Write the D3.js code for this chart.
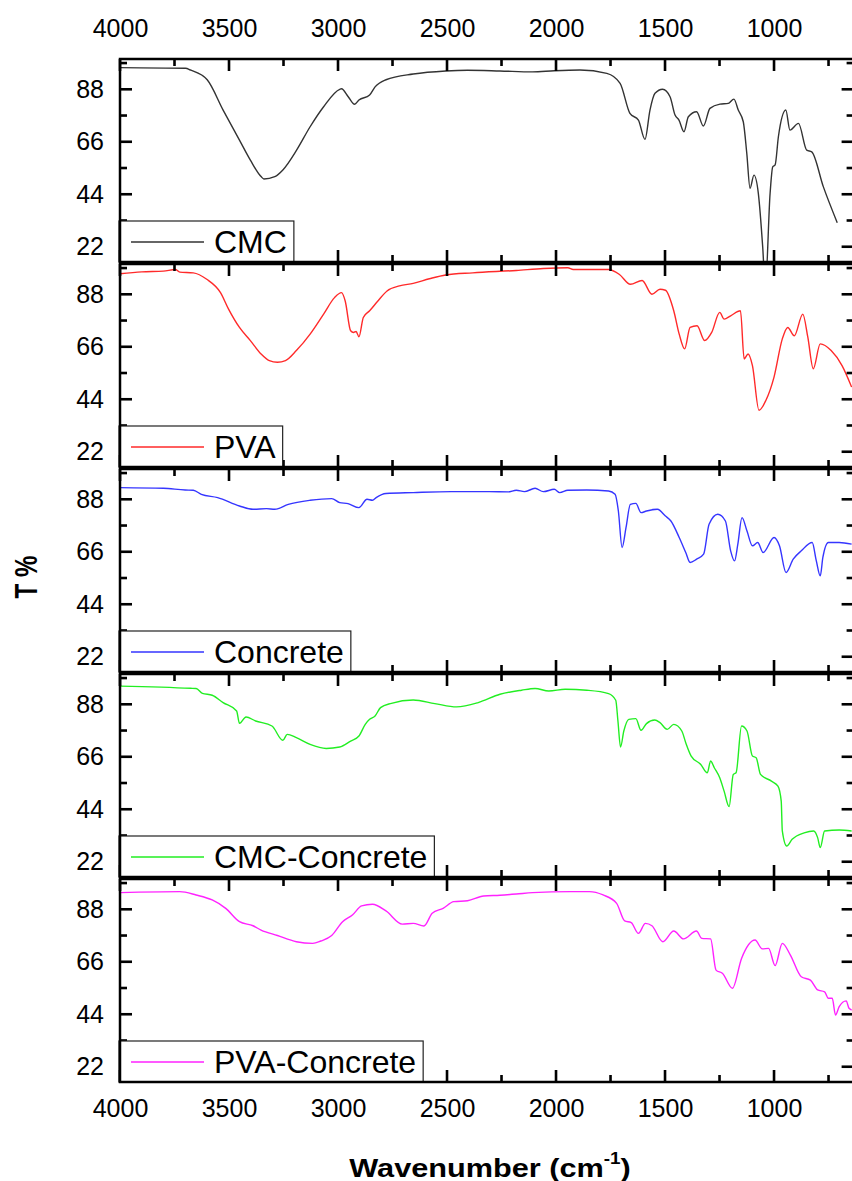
<!DOCTYPE html>
<html>
<head>
<meta charset="utf-8">
<script src="https://cdn.jsdelivr.net/npm/d3@7"></script>
<style>
  body { margin: 0; background: #fff; }
  svg { display: block; font-family: "Liberation Sans", Arial, sans-serif; }
</style>
</head>
<body>
<div id="chart"></div>
<script>
// series names + line colours, top panel first
const names = ['CMC', 'PVA', 'Concrete', 'CMC-Concrete', 'PVA-Concrete'];
const colors = ['#333333', '#ff2a2a', '#3535ff', '#22ee22', '#ff22ff'];

const xTicks = [4000, 3500, 3000, 2500, 2000, 1500, 1000];
const xMinor = [3750, 3250, 2750, 2250, 1750, 1250, 750];
const yTicks = [22, 44, 66, 88];
const yMinor = [33, 55, 77, 99];

// (wavenumber cm-1, transmittance %)
const cmcWn = [4000, 3700, 3675, 3600, 3527, 3452, 3402, 3353, 3340, 3290, 3253, 3190, 3128, 3066, 2992, 2984, 2954, 2924, 2904, 2855, 2830, 2780, 2655, 2506, 2406, 2257, 2108, 2008, 1890, 1767, 1706, 1661, 1622, 1592, 1569, 1546, 1511, 1477, 1454, 1436, 1413, 1393, 1355, 1324, 1294, 1248, 1210, 1184, 1164, 1141, 1125, 1110, 1092, 1072, 1052, 1040, 1018, 1006, 995, 980, 946, 927, 888, 850, 827, 774, 710];
const cmcT = [97.1, 96.8, 96, 92, 79.3, 66.7, 58.3, 51.4, 50.4, 51.4, 54.2, 62.5, 72.3, 80.7, 88, 88.2, 85, 81.7, 83.5, 85.6, 89, 92, 94.4, 95.7, 96, 95.7, 95.3, 95.8, 96.1, 94.7, 90.5, 77.9, 75.1, 67.0, 79.3, 86.3, 88, 84.9, 77.2, 75.1, 70.2, 76.5, 78.6, 72.6, 80.0, 81.8, 82.1, 83.9, 79.3, 74.4, 61.2, 46.5, 52, 44.4, 22, 5, 44.4, 55.5, 56.3, 68.1, 79.3, 70.9, 73.7, 62.5, 61.8, 47.2, 32.1];

const pvaWn = [4000, 3900, 3801, 3746, 3726, 3664, 3602, 3539, 3502, 3452, 3402, 3353, 3315, 3278, 3241, 3191, 3128, 3066, 3016, 2984, 2967, 2942, 2929, 2917, 2904, 2884, 2855, 2817, 2775, 2718, 2655, 2581, 2506, 2382, 2182, 2058, 1946, 1921, 1759, 1709, 1659, 1605, 1560, 1523, 1498, 1460, 1435, 1410, 1385, 1353, 1318, 1286, 1249, 1229, 1199, 1154, 1137, 1119, 1099, 1069, 1037, 1000, 962, 937, 907, 868, 845, 820, 788, 738, 688, 644];
const pvaT = [96.6, 97.4, 97.7, 98.4, 97.3, 97.0, 94.3, 88.7, 81.8, 74.1, 68.6, 63.0, 60.2, 59.5, 60.2, 64.4, 71.3, 79.7, 86.6, 88.7, 85.2, 72.7, 72, 72.4, 70.2, 78.3, 81.1, 85.2, 89.4, 91.5, 92.6, 94.5, 96.1, 97, 98, 98.8, 99.1, 98.4, 98.4, 96.3, 92.2, 93.8, 88, 90.1, 89.7, 81.1, 71.3, 65.1, 74.1, 74.8, 68.6, 72, 80.4, 77.6, 79.0, 81.1, 60.9, 63, 58.1, 39.4, 43.6, 53.3, 69.3, 74.1, 70.6, 79.7, 70, 56.8, 67.2, 64.4, 58.1, 49.1];

const conWn = [4000, 3801, 3701, 3664, 3627, 3552, 3452, 3390, 3328, 3290, 3228, 3128, 3029, 2992, 2954, 2904, 2867, 2842, 2825, 2780, 2655, 2481, 2307, 2220, 2182, 2145, 2096, 2058, 2008, 1983, 1946, 1859, 1759, 1729, 1714, 1697, 1679, 1659, 1634, 1610, 1585, 1535, 1498, 1473, 1435, 1405, 1385, 1355, 1323, 1298, 1258, 1223, 1199, 1181, 1166, 1147, 1124, 1099, 1075, 1050, 1000, 975, 945, 912, 875, 825, 806, 788, 776, 751, 701, 644];
const conT = [92.9, 92.6, 91.9, 91.8, 90.1, 88.7, 85.2, 83.8, 84.1, 83.8, 85.9, 87.6, 88.3, 86.6, 86.2, 84.5, 88, 87.6, 88.7, 90.4, 90.8, 91.2, 91.2, 91.1, 91.8, 91.2, 92.6, 91.2, 92.2, 90.8, 91.8, 91.9, 91.5, 90.1, 83.1, 67.8, 76.1, 85.9, 86.3, 82.4, 83.1, 83.8, 81, 78.9, 72, 65.7, 61.5, 62.9, 65, 77.5, 81.7, 78.9, 66.4, 62.2, 69.2, 80.3, 74.7, 68.5, 69.9, 65.7, 72, 68.5, 57.3, 62.9, 66.4, 69.9, 62.2, 55.9, 63.6, 69.9, 69.9, 69.2];

const cmcConWn = [4000, 3676, 3651, 3622, 3577, 3527, 3465, 3452, 3422, 3378, 3303, 3253, 3233, 3191, 3128, 3054, 2992, 2942, 2904, 2875, 2855, 2830, 2805, 2755, 2655, 2556, 2456, 2357, 2257, 2158, 2096, 2033, 1958, 1859, 1759, 1726, 1716, 1704, 1689, 1666, 1634, 1610, 1585, 1547, 1523, 1490, 1460, 1423, 1405, 1380, 1336, 1306, 1291, 1274, 1249, 1229, 1206, 1187, 1174, 1149, 1124, 1099, 1082, 1062, 1012, 982, 967, 962, 942, 917, 862, 818, 800, 788, 768, 701, 644];
const cmcConT = [95.6, 94.7, 94.6, 92.6, 91.8, 88.7, 85.2, 80, 82.7, 81, 78.9, 72.9, 75.4, 74, 71.2, 69.5, 70.1, 72.6, 74.7, 79.6, 81.7, 83.1, 86.6, 88.4, 89.8, 88.3, 86.9, 88.7, 92.2, 93.9, 94.6, 93.6, 94.3, 93.9, 92.5, 89.7, 81, 70.1, 76.8, 81.7, 82, 77.1, 79.9, 81.4, 80.3, 77.5, 79.6, 76.8, 71.9, 66.3, 62.8, 59.3, 64.2, 61.4, 57.2, 51.6, 45.1, 58.6, 59.3, 78.9, 76.8, 66.3, 65.6, 58.6, 55.8, 53.7, 47.4, 34.9, 28.6, 31.4, 34.1, 34.9, 32.1, 27.9, 34.9, 35.3, 34.9];

const pvaConWn = [4000, 3726, 3651, 3577, 3515, 3452, 3390, 3353, 3278, 3191, 3116, 3079, 3029, 2979, 2934, 2892, 2842, 2780, 2705, 2655, 2606, 2568, 2518, 2469, 2406, 2332, 2257, 2182, 2108, 1934, 1847, 1784, 1722, 1685, 1655, 1622, 1590, 1560, 1510, 1460, 1415, 1356, 1331, 1291, 1266, 1236, 1191, 1149, 1087, 1054, 1025, 995, 962, 925, 875, 833, 800, 768, 751, 733, 718, 701, 669, 656, 644];
const pvaConT = [95, 95.4, 94, 91.9, 88.4, 82.8, 81.1, 79.3, 77, 74.4, 73.7, 74.7, 77, 82.8, 85.6, 89.4, 90.1, 87.3, 81.8, 82.1, 81, 86.3, 88.4, 91.2, 91.6, 93.6, 93.9, 94.4, 95, 95.4, 95.4, 94, 90.5, 83.1, 82.4, 77.9, 82.1, 81.1, 74.4, 78.9, 75.6, 78.9, 75.8, 75.6, 62.5, 61.1, 54.9, 67.4, 75.1, 71.4, 71.6, 64.4, 73.7, 68.8, 59.7, 58.3, 54.2, 53.4, 50.7, 50.7, 43.7, 47.2, 49.6, 46.5, 45.8];

const seriesWn = [cmcWn, pvaWn, conWn, cmcConWn, pvaConWn];
const seriesT = [cmcT, pvaT, conT, cmcConT, pvaConT];

const W = 852, H = 1181;
const marginLeft = 120, marginTop = 59;
const plotW = 733.6, panelH = 203, step = 205;
const MAJOR = 12, MINOR = 7, TW = 2.6;

const svg = d3.select('#chart').append('svg')
  .attr('width', W)
  .attr('height', H);

const x = d3.scaleLinear().domain([4000, 635]).range([0, plotW]);
const y = d3.scaleLinear().domain([15.6, 100.7]).range([panelH, 0]);

const line = d3.line()
  .x(d => x(d[0]))
  .y(d => y(d[1]))
  .curve(d3.curveMonotoneX);

// tick labels only, via d3 axes
function addLabels(g, axis, transform) {
  const a = g.append('g')
    .attr('transform', transform)
    .call(axis);
  a.attr('font-size', 25).attr('font-family', null);
  a.select('.domain').remove();
  a.selectAll('.tick line').remove();
  a.selectAll('text').attr('fill', '#000');
}

// inward tick marks drawn as thin filled rects
function addTicks(g, xs, ys, len) {
  const t = g.append('g').attr('fill', '#000');
  t.selectAll(null).data(xs).join('rect')
    .attr('x', d => x(d) - TW / 2).attr('y', 0)
    .attr('width', TW).attr('height', len);
  t.selectAll(null).data(xs).join('rect')
    .attr('x', d => x(d) - TW / 2).attr('y', panelH - len)
    .attr('width', TW).attr('height', len);
  t.selectAll(null).data(ys).join('rect')
    .attr('x', 0).attr('y', d => y(d) - TW / 2)
    .attr('width', len).attr('height', TW);
  t.selectAll(null).data(ys).join('rect')
    .attr('x', plotW - len).attr('y', d => y(d) - TW / 2)
    .attr('width', len).attr('height', TW);
}

names.forEach((name, i) => {
  const g = svg.append('g')
    .attr('transform', 'translate(' + marginLeft + ',' + (marginTop + i * step) + ')');

  const clipId = 'clip' + i;
  g.append('clipPath')
    .attr('id', clipId)
    .append('rect')
    .attr('width', plotW)
    .attr('height', panelH);

  const pts = seriesWn[i].map((wn, j) => [wn, seriesT[i][j]]);

  g.append('path')
    .datum(pts)
    .attr('clip-path', 'url(#' + clipId + ')')
    .attr('fill', 'none')
    .attr('stroke', colors[i])
    .attr('stroke-width', 1.4)
    .attr('d', line);

  addTicks(g, xTicks, yTicks, MAJOR);
  addTicks(g, xMinor, yMinor, MINOR);

  addLabels(g, d3.axisLeft(y).tickValues(yTicks).tickSize(0).tickPadding(16), null);
  if (i === 0) {
    addLabels(g, d3.axisTop(x).tickValues(xTicks).tickFormat(d3.format('d')).tickSize(0).tickPadding(22), null);
  }
  if (i === names.length - 1) {
    addLabels(g, d3.axisBottom(x).tickValues(xTicks).tickFormat(d3.format('d')).tickSize(0).tickPadding(17),
      'translate(0,' + panelH + ')');
  }

  // legend box at the lower left corner
  const lg = g.append('g');
  const box = lg.append('rect')
    .attr('x', -1)
    .attr('y', panelH - 41)
    .attr('height', 41)
    .attr('fill', '#fff')
    .attr('stroke', '#222')
    .attr('stroke-width', 1.2);
  lg.append('line')
    .attr('x1', 11).attr('x2', 84)
    .attr('y1', panelH - 20).attr('y2', panelH - 20)
    .attr('stroke', colors[i])
    .attr('stroke-width', 1.4);
  const txt = lg.append('text')
    .attr('x', 94)
    .attr('y', panelH - 9)
    .attr('font-size', 32)
    .attr('fill', '#000')
    .text(name);
  box.attr('width', 94 + txt.node().getComputedTextLength() + 8);

  // frame
  g.append('rect')
    .attr('width', plotW)
    .attr('height', panelH)
    .attr('fill', 'none')
    .attr('stroke', '#000')
    .attr('stroke-width', 2.5);
});

// axis titles
svg.append('text')
  .attr('transform', 'translate(37,577) rotate(-90) scale(0.78,1)')
  .attr('text-anchor', 'middle')
  .attr('font-size', 31)
  .attr('font-weight', 'bold')
  .attr('fill', '#000')
  .text('T %');

const xt = svg.append('text')
  .attr('transform', 'translate(490,1177) scale(1.18,1)')
  .attr('text-anchor', 'middle')
  .attr('font-size', 26)
  .attr('font-weight', 'bold')
  .attr('fill', '#000');
xt.append('tspan').text('Wavenumber (cm');
xt.append('tspan').attr('font-size', 16).attr('dy', -13).text('-1');
xt.append('tspan').attr('dy', 13).text(')');
</script>
</body>
</html>
